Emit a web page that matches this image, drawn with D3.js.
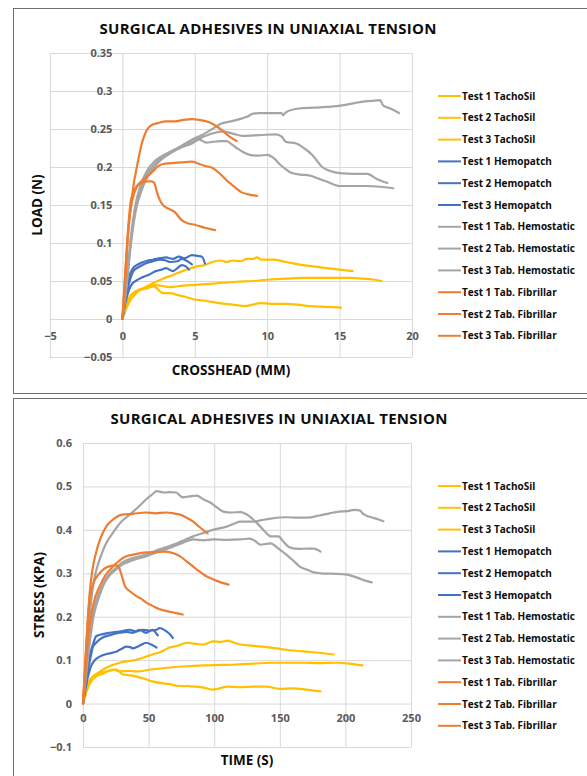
<!DOCTYPE html>
<html><head><meta charset="utf-8">
<script src="https://cdn.jsdelivr.net/npm/d3@7"></script>
<style>
body{margin:0;background:#fff;}
svg{display:block;font-family:"Open Sans",Lato,sans-serif;}
</style></head>
<body><svg id="c" width="587" height="776"></svg>
<script>
// ---------- DATA ----------
const seriesNames = ["Test 1 TachoSil","Test 2 TachoSil","Test 3 TachoSil","Test 1 Hemopatch","Test 2 Hemopatch","Test 3 Hemopatch","Test 1 Tab. Hemostatic","Test 2 Tab. Hemostatic","Test 3 Tab. Hemostatic","Test 1 Tab. Fibrillar","Test 2 Tab. Fibrillar","Test 3 Tab. Fibrillar"];
const seriesColors = ["#FFC000","#FFC000","#FFC000","#4472C4","#4472C4","#4472C4","#A5A5A5","#A5A5A5","#A5A5A5","#ED7D31","#ED7D31","#ED7D31"];

const loadXTicks = [-5,0,5,10,15,20];
const loadYTicks = [-0.05,0,0.05,0.1,0.15,0.2,0.25,0.3,0.35];
const stressXTicks = [0,50,100,150,200,250];
const stressYTicks = [-0.1,0,0.1,0.2,0.3,0.4,0.5,0.6];

// Load (N) vs crosshead (mm)
const loadTacho1 = [[0,0],[0.3,0.015],[0.6,0.026],[0.95,0.034],[1.5,0.041],[2.1,0.047],[2.8,0.053],[3.5,0.058],[4.3,0.064],[5.1,0.069],[5.7,0.071],[6.2,0.075],[6.8,0.077],[7.2,0.075],[7.6,0.077],[8.2,0.076],[8.6,0.079],[9.0,0.079],[9.3,0.081],[9.6,0.078],[10.4,0.078],[11.3,0.075],[12.5,0.071],[13.3,0.069],[14.1,0.067],[15.0,0.065],[15.9,0.063]];
const loadTacho2 = [[0,0],[0.2,0.012],[0.5,0.029],[0.9,0.036],[1.4,0.04],[2.1,0.045],[2.6,0.044],[3.3,0.042],[4.2,0.044],[5.1,0.045],[6.5,0.047],[7.9,0.049],[9.0,0.050],[10.2,0.052],[11.3,0.053],[12.5,0.054],[13.6,0.054],[14.8,0.054],[15.7,0.054],[16.6,0.053],[17.3,0.052],[17.9,0.050]];
const loadTacho3 = [[0,0],[0.3,0.02],[0.7,0.033],[1.1,0.038],[1.6,0.040],[2.2,0.043],[2.5,0.038],[2.8,0.034],[3.3,0.034],[3.9,0.031],[4.4,0.029],[4.9,0.026],[5.7,0.024],[6.7,0.021],[7.6,0.019],[8.5,0.017],[9.0,0.019],[9.5,0.021],[10.3,0.020],[11.3,0.020],[12.1,0.019],[12.9,0.017],[14.0,0.016],[15.1,0.015]];
const loadHemo1 = [[0,0],[0.2,0.03],[0.45,0.055],[0.7,0.066],[1.1,0.072],[1.6,0.076],[2.1,0.078],[2.6,0.080],[3.0,0.081],[3.5,0.079],[3.9,0.082],[4.3,0.080],[4.8,0.084],[5.2,0.083],[5.5,0.082],[5.7,0.073]];
const loadHemo2 = [[0,0],[0.2,0.025],[0.5,0.05],[0.8,0.064],[1.2,0.069],[1.6,0.073],[2.1,0.076],[2.6,0.078],[3.0,0.077],[3.3,0.075],[3.8,0.076],[4.1,0.079],[4.4,0.077],[4.8,0.072]];
const loadHemo3 = [[0,0],[0.2,0.02],[0.45,0.038],[0.7,0.047],[1.0,0.051],[1.4,0.055],[1.9,0.059],[2.3,0.063],[2.7,0.065],[3.0,0.067],[3.5,0.063],[3.8,0.067],[4.1,0.071],[4.4,0.069],[4.6,0.065]];
const loadHemost1 = [[0,0],[0.3,0.05],[0.6,0.11],[0.9,0.15],[1.3,0.178],[1.7,0.195],[2.2,0.207],[2.7,0.214],[3.3,0.22],[4.1,0.228],[4.8,0.236],[5.5,0.242],[6.2,0.25],[6.8,0.257],[7.5,0.26],[8.1,0.263],[8.6,0.266],[9.0,0.27],[9.4,0.271],[10.3,0.271],[11.0,0.271],[11.1,0.268],[11.3,0.272],[12.2,0.277],[13.2,0.278],[14.1,0.279],[15.2,0.281],[16.0,0.284],[16.6,0.286],[17.2,0.287],[17.8,0.288],[18.0,0.281],[18.5,0.277],[19.1,0.271]];
const loadHemost2 = [[0,0],[0.3,0.05],[0.6,0.105],[0.9,0.145],[1.3,0.172],[1.7,0.19],[2.2,0.203],[2.7,0.212],[3.3,0.219],[4.1,0.227],[4.8,0.233],[5.5,0.239],[6.2,0.244],[6.9,0.247],[7.6,0.244],[8.3,0.241],[9.5,0.242],[10.6,0.243],[11.0,0.24],[11.3,0.233],[12.0,0.231],[12.6,0.224],[13.1,0.216],[13.8,0.2],[14.3,0.195],[15.0,0.192],[16.0,0.191],[16.9,0.191],[17.6,0.184],[18.3,0.179]];
const loadHemost3 = [[0,0],[0.3,0.045],[0.6,0.1],[0.9,0.14],[1.3,0.168],[1.7,0.186],[2.2,0.2],[2.7,0.21],[3.3,0.218],[4.1,0.226],[4.8,0.231],[5.3,0.236],[5.8,0.232],[6.2,0.233],[6.8,0.234],[7.2,0.234],[7.6,0.229],[7.9,0.225],[8.3,0.22],[8.8,0.216],[9.4,0.215],[10.0,0.216],[10.5,0.211],[10.9,0.203],[11.3,0.197],[11.7,0.192],[12.3,0.19],[12.9,0.189],[13.5,0.185],[14.1,0.181],[15.0,0.175],[16.0,0.175],[16.9,0.175],[17.8,0.174],[18.7,0.172]];
const loadFibr1 = [[0,0],[0.2,0.06],[0.4,0.115],[0.6,0.15],[0.8,0.18],[1.0,0.2],[1.3,0.228],[1.7,0.249],[2.0,0.255],[2.5,0.258],[3.0,0.26],[3.6,0.26],[4.2,0.262],[4.85,0.263],[5.3,0.262],[6.0,0.259],[6.7,0.251],[7.4,0.24],[7.9,0.234]];
const loadFibr2 = [[0,0],[0.2,0.05],[0.35,0.1],[0.5,0.135],[0.7,0.158],[1.0,0.174],[1.3,0.181],[1.7,0.187],[2.1,0.194],[2.4,0.2],[2.8,0.204],[3.4,0.205],[4.1,0.206],[4.8,0.207],[5.3,0.204],[5.8,0.201],[6.2,0.199],[6.8,0.19],[7.4,0.179],[7.8,0.173],[8.2,0.167],[8.7,0.164],[9.3,0.162]];
const loadFibr3 = [[0,0],[0.2,0.06],[0.4,0.12],[0.6,0.158],[0.9,0.172],[1.3,0.179],[1.7,0.181],[2.0,0.181],[2.2,0.179],[2.4,0.166],[2.6,0.156],[2.8,0.15],[3.2,0.145],[3.6,0.141],[4.1,0.13],[4.5,0.126],[5.0,0.124],[5.7,0.12],[6.4,0.117]];

// Stress (kPa) vs time (s)
const stressTacho1 = [[0,0],[3,0.03],[6,0.05],[10,0.066],[15,0.078],[21,0.087],[28,0.094],[35,0.098],[41,0.101],[47,0.107],[53,0.113],[60,0.12],[66,0.129],[72,0.133],[79,0.14],[85,0.138],[91.7,0.136],[99,0.143],[105,0.142],[110,0.145],[115,0.14],[120,0.136],[130,0.133],[143,0.129],[155,0.124],[168,0.12],[180,0.117],[191,0.113]];
const stressTacho2 = [[0,0],[3,0.035],[6,0.052],[10,0.062],[16,0.07],[23,0.078],[28,0.074],[35,0.075],[41,0.074],[53,0.079],[66,0.083],[79,0.086],[92,0.088],[105,0.089],[117,0.09],[130,0.092],[143,0.094],[155,0.094],[168,0.094],[180,0.093],[193,0.094],[203,0.092],[213,0.088]];
const stressTacho3 = [[0,0],[3,0.04],[6,0.058],[9,0.066],[12.7,0.071],[18,0.074],[25.7,0.078],[28,0.073],[30.5,0.067],[36,0.065],[41,0.062],[47,0.057],[53,0.051],[60,0.047],[66,0.045],[71.5,0.041],[80,0.04],[86.6,0.039],[93,0.036],[99,0.032],[104,0.035],[110,0.039],[120,0.038],[130,0.039],[140,0.039],[150,0.034],[160,0.035],[170,0.032],[181,0.028]];
const stressHemo1 = [[0,0],[2,0.05],[4,0.09],[6,0.12],[8,0.14],[10,0.155],[15,0.16],[20,0.163],[28,0.166],[35.6,0.17],[40,0.166],[45.6,0.17],[50,0.168],[56,0.17],[58.5,0.174],[63.6,0.166],[66,0.16],[68.5,0.151]];
const stressHemo2 = [[0,0],[2,0.04],[4,0.08],[6,0.11],[7.6,0.131],[10,0.14],[15,0.152],[20,0.157],[28,0.163],[33,0.165],[38,0.163],[43,0.17],[48,0.163],[53,0.17],[55,0.165],[57,0.157]];
const stressHemo3 = [[0,0],[2,0.035],[4,0.065],[6,0.085],[9,0.1],[12.7,0.108],[18,0.114],[25.7,0.12],[30,0.127],[33,0.131],[36,0.13],[38,0.127],[43,0.133],[48,0.14],[52,0.136],[56,0.129]];
const stressHemost1 = [[0,0],[2,0.08],[4,0.16],[6,0.23],[7.6,0.27],[10,0.305],[12.7,0.332],[17,0.365],[23,0.394],[29,0.418],[35.6,0.435],[42,0.452],[48,0.47],[53,0.482],[56,0.489],[62,0.486],[66,0.487],[71,0.486],[76,0.475],[81,0.477],[86.6,0.479],[92,0.47],[97,0.463],[102,0.452],[107,0.442],[113,0.44],[120,0.441],[127,0.431],[131,0.42],[135,0.408],[139,0.395],[143,0.385],[149,0.385],[153,0.372],[158,0.359],[165,0.356],[172,0.357],[176,0.357],[181,0.35]];
const stressHemost2 = [[0,0],[2,0.06],[4,0.12],[6,0.17],[8,0.21],[10,0.235],[13,0.26],[16,0.28],[20,0.298],[25,0.312],[30,0.325],[38,0.335],[48,0.343],[58,0.355],[69,0.366],[76,0.375],[84,0.385],[92,0.393],[99,0.4],[110,0.408],[115,0.414],[120,0.419],[130,0.419],[137,0.423],[143,0.426],[155,0.429],[163,0.428],[171,0.428],[180,0.433],[188,0.438],[195,0.442],[201,0.443],[207,0.446],[211,0.445],[213,0.438],[215,0.434],[222,0.427],[229,0.42]];
const stressHemost3 = [[0,0],[2,0.055],[4,0.11],[6,0.16],[8,0.2],[10,0.225],[13,0.252],[16,0.275],[20,0.294],[25,0.308],[30,0.32],[38,0.33],[48,0.339],[58,0.35],[69,0.362],[76,0.37],[84,0.378],[92,0.376],[99,0.378],[110,0.377],[120,0.378],[127,0.38],[131,0.375],[135,0.366],[143,0.369],[149,0.357],[155,0.343],[160,0.33],[165,0.316],[171,0.308],[176,0.302],[181,0.3],[190,0.299],[201,0.297],[205,0.294],[209,0.29],[215,0.283],[220,0.279]];
const stressFibr1 = [[0,0],[1.5,0.08],[2.6,0.14],[4,0.21],[5.1,0.255],[7,0.305],[10,0.348],[13,0.378],[17.8,0.408],[23,0.424],[30,0.435],[38,0.437],[48,0.44],[55,0.438],[63.5,0.44],[69,0.438],[74,0.435],[79,0.428],[84,0.419],[89,0.406],[95,0.392]];
const stressFibr2 = [[0,0],[1.5,0.06],[3,0.12],[5,0.177],[8,0.23],[12.7,0.27],[17,0.295],[23,0.316],[28,0.33],[33,0.339],[40,0.344],[48,0.348],[55,0.349],[63.5,0.35],[69,0.346],[74,0.339],[80,0.325],[86.6,0.309],[93,0.295],[99,0.286],[105,0.279],[111,0.274]];
const stressFibr3 = [[0,0],[1.5,0.08],[3,0.16],[5,0.24],[8,0.278],[12.7,0.3],[16,0.31],[20,0.316],[25,0.318],[27,0.316],[28,0.309],[30,0.29],[32,0.27],[36,0.258],[41,0.247],[45,0.24],[48.6,0.232],[53,0.225],[58.5,0.217],[64,0.213],[70,0.209],[76,0.205]];

const loadSeries = [loadTacho1,loadTacho2,loadTacho3,loadHemo1,loadHemo2,loadHemo3,loadHemost1,loadHemost2,loadHemost3,loadFibr1,loadFibr2,loadFibr3];
const stressSeries = [stressTacho1,stressTacho2,stressTacho3,stressHemo1,stressHemo2,stressHemo3,stressHemost1,stressHemost2,stressHemost3,stressFibr1,stressFibr2,stressFibr3];

// ---------- DRAW ----------
const svg = d3.select("#c");
const GRID = "#D9D9D9", TICK = "#595959", INK = "#0d0d0d";
const FONT = "'Open Sans', Lato, sans-serif";

function chart(cfg){
  const g = svg.append("g");
  g.append("rect").attr("x",cfg.frame[0]+0.5).attr("y",cfg.frame[1]+0.5)
    .attr("width",cfg.frame[2]).attr("height",cfg.frame[3])
    .attr("fill","#fff").attr("stroke","#6e6e6e").attr("stroke-width",1);
  const x = d3.scaleLinear().domain(cfg.xDomain).range(cfg.xRange);
  const y = d3.scaleLinear().domain(cfg.yDomain).range(cfg.yRange);
  // gridlines
  g.append("g").attr("transform",`translate(0,${cfg.yRange[0]})`)
    .call(d3.axisBottom(x).tickValues(cfg.xTicks).tickSize(cfg.yRange[1]-cfg.yRange[0]).tickFormat(""))
    .call(a=>a.select(".domain").remove())
    .call(a=>a.selectAll("line").attr("stroke",GRID));
  g.append("g").attr("transform",`translate(${cfg.xRange[0]},0)`)
    .call(d3.axisRight(y).tickValues(cfg.yTicks).tickSize(cfg.xRange[1]-cfg.xRange[0]).tickFormat(""))
    .call(a=>a.select(".domain").remove())
    .call(a=>a.selectAll("line").attr("stroke",GRID));
  // tick labels (axes cross at zero)
  const xa = g.append("g").attr("transform",`translate(0,${y(0)})`)
    .call(d3.axisBottom(x).tickValues(cfg.xTicks).tickSize(0).tickPadding(cfg.xPad).tickFormat(d3.format("")));
  xa.select(".domain").remove();
  xa.selectAll("text").attr("fill",TICK).style("font-size","11px").style("font-weight","bold").style("font-family",FONT);
  const ya = g.append("g").attr("transform",`translate(${x(0)},0)`)
    .call(d3.axisLeft(y).tickValues(cfg.yTicks).tickSize(0).tickPadding(cfg.yPad).tickFormat(d3.format("")));
  ya.select(".domain").remove();
  ya.selectAll("text").attr("fill",TICK).style("font-size","11px").style("font-weight","bold").style("font-family",FONT);
  // lines
  const line = d3.line().x(d=>x(d[0])).y(d=>y(d[1])).curve(d3.curveMonotoneX);
  cfg.series.forEach((s,i)=>{
    g.append("path").datum(s).attr("d",line).attr("fill","none")
      .attr("stroke",seriesColors[i]).attr("stroke-width",2.2).attr("stroke-linejoin","round").attr("stroke-linecap","round");
  });
  // title
  g.append("text").attr("x",cfg.titleX).attr("y",cfg.titleY).attr("text-anchor","middle")
    .attr("textLength",337).attr("lengthAdjust","spacing")
    .style("font-size","15px").style("font-weight","bold").attr("fill",INK).text("SURGICAL ADHESIVES IN UNIAXIAL TENSION");
  // axis titles
  g.append("text").attr("x",cfg.xTitle[0]).attr("y",cfg.xTitle[1]).attr("text-anchor","middle")
    .style("font-size","13.5px").style("font-weight","bold").attr("fill",INK).text(cfg.xLabel);
  g.append("text").attr("transform",`translate(${cfg.yTitle[0]},${cfg.yTitle[1]}) rotate(-90)`).attr("text-anchor","middle")
    .style("font-size","13.5px").style("font-weight","bold").attr("fill",INK).text(cfg.yLabel);
  // legend
  const lg = g.append("g");
  seriesNames.forEach((n,i)=>{
    const yy = cfg.legendY + i*21.8;
    lg.append("line").attr("x1",438).attr("x2",461).attr("y1",yy).attr("y2",yy)
      .attr("stroke",seriesColors[i]).attr("stroke-width",2);
    lg.append("text").attr("x",462).attr("y",yy).attr("dy","0.35em")
      .style("font-size","10px").style("font-weight","bold").attr("fill",INK).text(n);
  });
}

chart({frame:[13,8,600,385], xDomain:[-5,20], xRange:[50,412], yDomain:[-0.05,0.35], yRange:[357,53],
  xTicks:loadXTicks, yTicks:loadYTicks, xPad:13, yPad:10, series:loadSeries,
  titleX:268, titleY:34, xTitle:[231,375], yTitle:[42,205], xLabel:"CROSSHEAD (MM)", yLabel:"LOAD (N)", legendY:96});

chart({frame:[13,398,600,400], xDomain:[0,250], xRange:[83,411], yDomain:[-0.1,0.6], yRange:[747,443],
  xTicks:stressXTicks, yTicks:stressYTicks, xPad:11, yPad:11, series:stressSeries,
  titleX:279, titleY:424, xTitle:[247,765], yTitle:[44,595], xLabel:"TIME (S)", yLabel:"STRESS (KPA)", legendY:486});
</script></body></html>
